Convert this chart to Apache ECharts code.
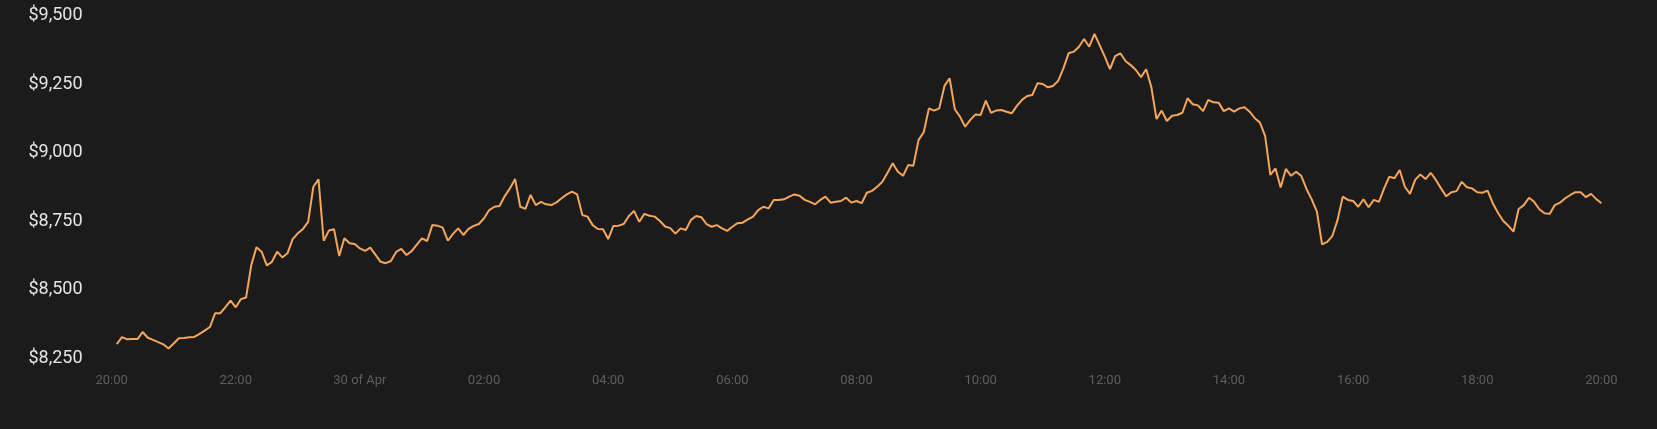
<!DOCTYPE html>
<html>
<head>
<meta charset="utf-8">
<script src="https://cdn.jsdelivr.net/npm/echarts@6/dist/echarts.min.js"></script>
<style>
  html, body { margin: 0; padding: 0; background: #1c1b1c; }
  #chart { width: 1657px; height: 429px; }
</style>
</head>
<body>
<div id="chart"></div>
<script>
// minutes since 29 Apr 20:00
const minutes = [
  5,10,15,20,25,30,35,40,45,50,55,60,65,70,75,80,85,90,95,100,
  105,110,115,120,125,130,135,140,145,150,155,160,165,170,175,180,185,190,195,200,
  205,210,215,220,225,230,235,240,245,250,255,260,265,270,275,280,285,290,295,300,
  305,310,315,320,325,330,335,340,345,350,355,360,365,370,375,380,385,390,395,400,
  405,410,415,420,425,430,435,440,445,450,455,460,465,470,475,480,485,490,495,500,
  505,510,515,520,525,530,535,540,545,550,555,560,565,570,575,580,585,590,595,600,
  605,610,615,620,625,630,635,640,645,650,655,660,665,670,675,680,685,690,695,700,
  705,710,715,720,725,730,735,740,745,750,755,760,765,770,775,780,785,790,795,800,
  805,810,815,820,825,830,835,840,845,850,855,860,865,870,875,880,885,890,895,900,
  905,910,915,920,925,930,935,940,945,950,955,960,965,970,975,980,985,990,995,1000,
  1005,1010,1015,1020,1025,1030,1035,1040,1045,1050,1055,1060,1065,1070,1075,1080,1085,1090,1095,1100,
  1105,1110,1115,1120,1125,1130,1135,1140,1145,1150,1155,1160,1165,1170,1175,1180,1185,1190,1195,1200,
  1205,1210,1215,1220,1225,1230,1235,1240,1245,1250,1255,1260,1265,1270,1275,1280,1285,1290,1295,1300,
  1305,1310,1315,1320,1325,1330,1335,1340,1345,1350,1355,1360,1365,1370,1375,1380,1385,1390,1395,1400,
  1405,1410,1415,1420,1425,1430,1435,1440
];
const prices = [
  8301,8326,8318,8319,8319,8345,8324,8316,8308,8300,8285,8303,8322,8323,8326,8327,8338,8350,8363,8413,
  8413,8436,8459,8435,8465,8471,8589,8654,8638,8588,8601,8638,8617,8632,8684,8705,8721,8747,8875,8902,
  8678,8715,8720,8622,8687,8669,8666,8650,8641,8653,8627,8601,8596,8604,8637,8648,8626,8640,8664,8687,
  8677,8735,8733,8726,8678,8703,8723,8699,8721,8732,8739,8760,8790,8802,8805,8841,8869,8903,8802,8794,
  8845,8808,8820,8811,8808,8818,8833,8847,8857,8847,8772,8766,8735,8721,8720,8684,8732,8733,8739,8768,
  8787,8747,8776,8769,8766,8750,8730,8724,8704,8723,8717,8754,8768,8764,8739,8729,8735,8723,8714,8729,
  8742,8744,8756,8766,8790,8802,8796,8827,8827,8829,8839,8847,8842,8827,8820,8811,8827,8839,8817,8820,
  8823,8835,8817,8823,8815,8853,8860,8875,8893,8926,8961,8930,8915,8954,8952,9046,9074,9161,9153,9161,
  9243,9271,9158,9131,9094,9119,9139,9137,9189,9145,9153,9155,9149,9143,9170,9192,9206,9210,9253,9250,
  9238,9243,9262,9307,9362,9368,9386,9414,9386,9433,9392,9350,9304,9352,9362,9334,9319,9301,9275,9304,
  9238,9122,9153,9115,9134,9137,9145,9198,9176,9172,9151,9192,9183,9182,9151,9161,9149,9161,9165,9149,
  9125,9109,9060,8918,8942,8872,8940,8915,8930,8914,8866,8829,8784,8665,8674,8696,8754,8839,8827,8823,
  8802,8829,8800,8827,8820,8869,8912,8906,8936,8875,8849,8900,8920,8903,8926,8900,8869,8840,8855,8859,
  8893,8873,8869,8855,8853,8861,8815,8780,8751,8733,8711,8794,8808,8835,8820,8793,8778,8776,8808,8817,
  8833,8845,8855,8855,8837,8849,8830,8815
];
const xTickLabels = ['20:00','22:00','30 of Apr','02:00','04:00','06:00','08:00','10:00','12:00','14:00','16:00','18:00','20:00'];
const yTicks = [8250, 8500, 8750, 9000, 9250, 9500];

const chart = echarts.init(document.getElementById('chart'), null, { renderer: 'canvas' });
chart.setOption({
  backgroundColor: '#1c1b1c',
  animation: false,
  grid: { left: 111.6, right: 55.6, top: 15.5, bottom: 71 },
  xAxis: {
    type: 'value',
    min: 0,
    max: 1440,
    interval: 120,
    axisLine: { show: false },
    axisTick: { show: false },
    splitLine: { show: false },
    axisLabel: {
      color: '#5e5e5e',
      fontFamily: 'Roboto',
      fontSize: 13,
      margin: 16,
      formatter: function (v) { return xTickLabels[Math.round(v / 120)] || ''; }
    }
  },
  yAxis: {
    type: 'value',
    min: yTicks[0],
    max: yTicks[yTicks.length - 1],
    interval: 250,
    axisLine: { show: false },
    axisTick: { show: false },
    splitLine: { show: false },
    axisLabel: {
      color: '#e4e4e4',
      fontFamily: 'Roboto',
      fontSize: 18,
      margin: 29,
      formatter: function (v) { return '$' + v.toLocaleString('en-US'); }
    }
  },
  series: [{
    type: 'line',
    data: minutes.map((m, i) => [m, prices[i]]),
    showSymbol: false,
    smooth: false,
    lineStyle: { color: '#f5a65b', width: 2 },
    itemStyle: { color: '#f5a65b' }
  }]
});
</script>
</body>
</html>
